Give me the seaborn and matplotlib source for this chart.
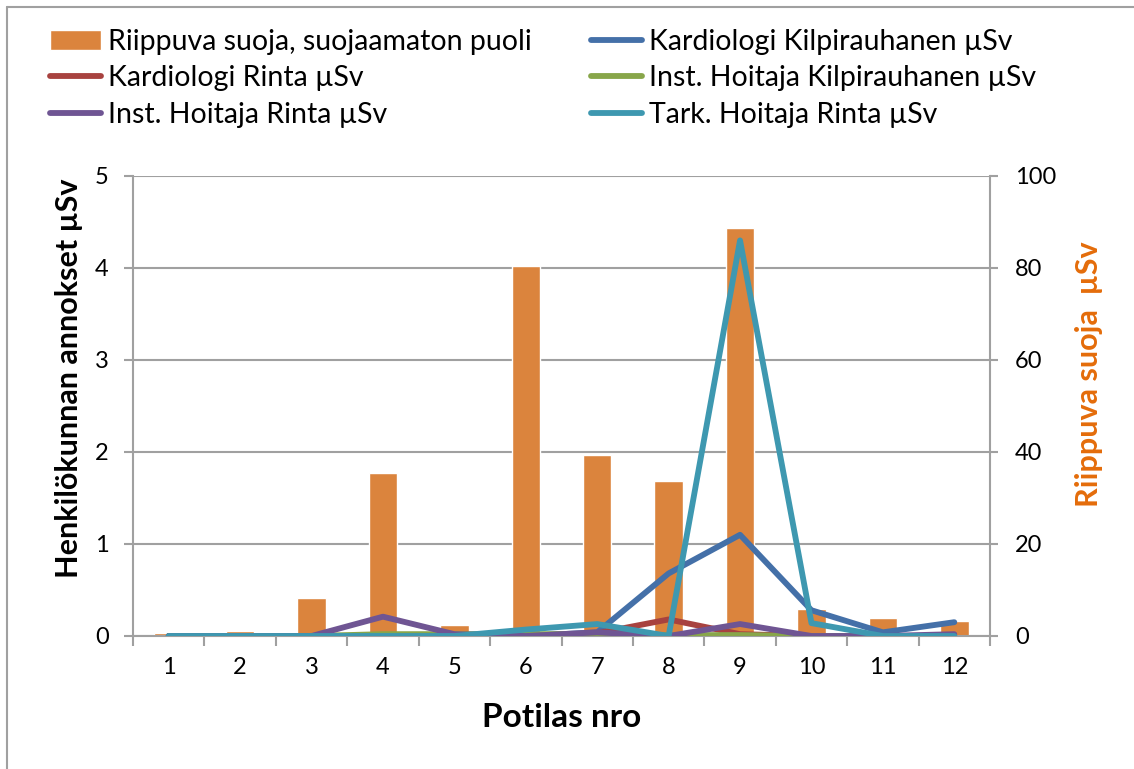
import numpy as np
import pandas as pd
import seaborn as sns
import matplotlib.pyplot as plt
from matplotlib.patches import Patch
from matplotlib.lines import Line2D

potilas = ["1", "2", "3", "4", "5", "6", "7", "8", "9", "10", "11", "12"]
suoja = [0.6, 1.0, 8.2, 35.4, 2.4, 80.5, 39.3, 33.7, 88.8, 5.9, 4.0, 3.2]
kard_kilp = [0, 0, 0, 0, 0, 0, 0.04, 0.68, 1.1, 0.28, 0.04, 0.15]
kard_rinta = [0, 0, 0, 0, 0, 0, 0.03, 0.18, 0.02, 0, 0, 0]
inst_kilp = [0, 0, 0, 0.02, 0.02, 0.02, 0.02, 0.01, 0.01, 0, 0, 0]
inst_rinta = [0, 0, 0, 0.21, 0.02, 0.0, 0.04, 0.0, 0.13, 0, 0, 0.02]
tark_rinta = [0, 0, 0, 0, 0, 0.07, 0.13, 0.0, 4.3, 0.14, 0, 0]

bar_label = "Riippuva suoja, suojaamaton puoli"
line_labels = ["Kardiologi Kilpirauhanen µSv", "Kardiologi Rinta µSv",
               "Inst. Hoitaja Kilpirauhanen µSv", "Inst. Hoitaja Rinta µSv",
               "Tark. Hoitaja Rinta µSv"]
line_values = [kard_kilp, kard_rinta, inst_kilp, inst_rinta, tark_rinta]
line_colors = ["#4470A8", "#A8423F", "#88A64A", "#6F5593", "#3E98B0"]
bar_color = "#DB843D"
grey = "#A0A0A0"
lw = 4.2

sns.set_theme(style="white")
plt.rcParams["font.family"] = ["Lato", "DejaVu Sans"]
plt.rcParams["text.color"] = "black"
plt.rcParams["axes.labelcolor"] = "black"

fig = plt.figure(figsize=(11.34, 7.69), dpi=100)
ax2 = fig.add_axes([133 / 1134, 1 - 636 / 769, (990 - 133) / 1134, (636 - 176) / 769])
ax = ax2.twinx()

bars = pd.DataFrame({"potilas": potilas, "suoja": suoja})
sns.barplot(data=bars, x="potilas", y="suoja", color=bar_color, width=0.4,
            saturation=1, ax=ax2, zorder=2)
ax2.set_ylim(0, 100)
ax2.set_yticks(range(0, 101, 20))
ax2.yaxis.grid(True, color=grey, linewidth=1.5, zorder=0)
ax2.set_axisbelow(True)

rows = []
for lab, vals in zip(line_labels, line_values):
    for i, v in enumerate(vals):
        rows.append({"x": i, "arvo": v, "sarja": lab})
lines = pd.DataFrame(rows)
sns.lineplot(data=lines, x="x", y="arvo", hue="sarja", hue_order=line_labels,
             palette=line_colors, linewidth=lw, sort=False, legend=False, ax=ax)
for ln in ax.get_lines():
    ln.set_solid_capstyle("round")
    ln.set_solid_joinstyle("round")

ax.set_ylim(0, 5)
ax.set_yticks(range(0, 6))
ax.set_xlim(-0.5, 11.5)
ax2.set_xlim(-0.5, 11.5)

# lines on top, left axis for the lines, right axis for the bars
ax.set_zorder(ax2.get_zorder() + 1)
ax.patch.set_visible(False)
ax.yaxis.tick_left()
ax.yaxis.set_label_position("left")
ax2.yaxis.tick_right()
ax2.yaxis.set_label_position("right")

for a in (ax, ax2):
    for s in a.spines.values():
        s.set_visible(False)
ax2.spines["bottom"].set_visible(True)
ax2.spines["bottom"].set_color(grey)
ax2.spines["bottom"].set_linewidth(1.5)
ax.spines["left"].set_visible(True)
ax.spines["left"].set_color(grey)
ax.spines["left"].set_linewidth(1.5)
ax2.spines["right"].set_visible(True)
ax2.spines["right"].set_color(grey)
ax2.spines["right"].set_linewidth(1.5)

ax.tick_params(axis="y", direction="out", length=6.5, width=1.5, color=grey,
               labelcolor="black", labelsize=17, pad=11, left=True)
ax2.tick_params(axis="y", direction="out", length=6, width=1.5, color=grey,
                labelcolor="black", labelsize=17, pad=12, right=True)
ax2.set_xticks(np.arange(-0.5, 12, 1), minor=True)
ax2.tick_params(axis="x", which="minor", direction="out", length=7, width=1.5,
                color=grey, bottom=True)
ax2.tick_params(axis="x", which="major", length=0, labelsize=17, pad=15,
                labelcolor="black")
ax.tick_params(axis="x", which="both", bottom=False, labelbottom=False)

ax2.set_xlabel("Potilas nro", fontsize=24, fontweight="bold", labelpad=18)
ax.set_ylabel("Henkilökunnan annokset µSv", fontsize=22, fontweight="bold")
ax.yaxis.set_label_coords(-0.058, 0.561)
ax2.set_ylabel("Riippuva suoja  µSv", fontsize=22, fontweight="bold",
               color="#E46C0A", rotation=90)
ax2.yaxis.set_label_coords(1.099, 0.57)

handles = [Patch(facecolor=bar_color, label=bar_label)]
handles += [Line2D([0], [0], color=c, linewidth=lw, solid_capstyle="round", label=l)
            for c, l in zip(line_colors, line_labels)]
columns = [([0, 2, 4], 50), ([1, 3, 5], 591)]
for idx, xpos in columns:
    leg = fig.legend([handles[i] for i in idx], [handles[i].get_label() for i in idx],
                     loc="upper left", bbox_to_anchor=(xpos / 1134, 1 - 29 / 769),
                     frameon=False, fontsize=20.5, handlelength=1.8,
                     handletextpad=0.25, labelspacing=0.36, borderpad=0,
                     borderaxespad=0)

fig.add_artist(Line2D([7 / 1134, 1], [1 - 7 / 769, 1 - 7 / 769],
                      color=grey, linewidth=1.5, transform=fig.transFigure))
fig.add_artist(Line2D([7 / 1134, 7 / 1134], [0, 1 - 7 / 769],
                      color=grey, linewidth=1.5, transform=fig.transFigure))

fig.savefig("out.png", dpi=100)
